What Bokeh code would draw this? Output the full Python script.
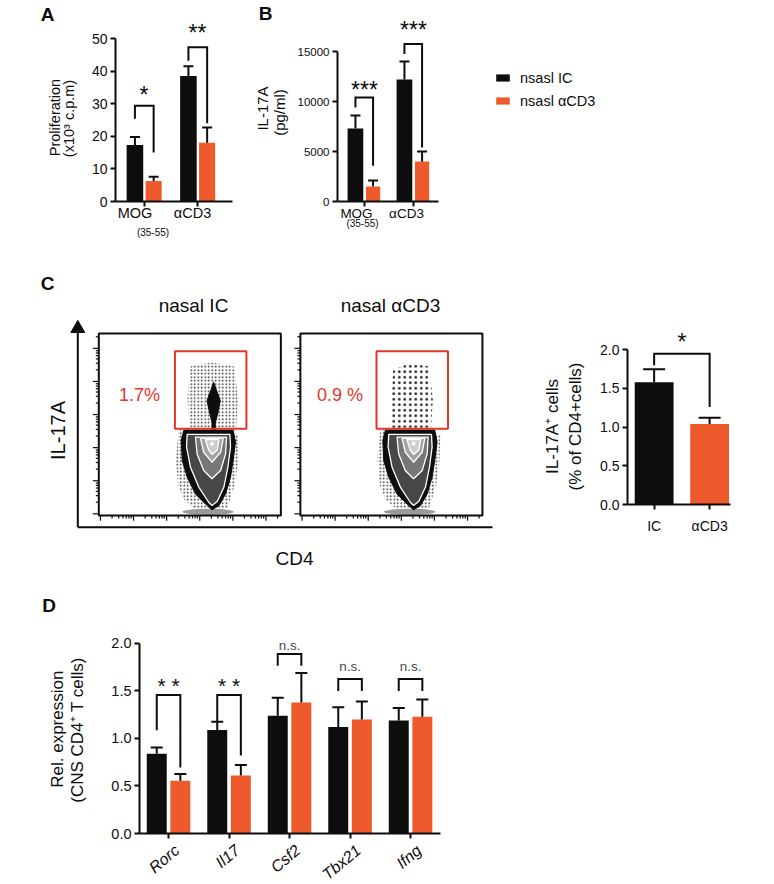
from bokeh.plotting import figure
from bokeh.models import (Range1d, FixedTicker, Whisker, TeeHead, ColumnDataSource,
                          Legend, LegendItem, NumeralTickFormatter)
from bokeh.layouts import row, column
from bokeh.core.properties import value
from bokeh.embed import file_html
from bokeh.resources import INLINE
import math

FONT = "Liberation Sans"
INK = "#0d0d0d"
ORANGE = "#EE5A2B"
RED = "#E2352C"

# ---------------- data: panel A ----------------
A_groups = ["MOG", "αCD3"]
A_ic = [17.3, 38.5]
A_ic_err = [19.8, 41.5]
A_acd3 = [6.3, 18.0]
A_acd3_err = [7.6, 22.7]
A_sig = ["*", "**"]
A_sig_y = [34.0, 53.0]
A_br_top = [29.4, 47.3]
A_br_left = [25.4, 43.2]
A_br_right = [15.0, 24.0]
A_yticks = [0, 10, 20, 30, 40, 50]

# ---------------- data: panel B ----------------
B_groups = ["MOG", "αCD3"]
B_ic = [7300, 12200]
B_ic_err = [8600, 14000]
B_acd3 = [1500, 4000]
B_acd3_err = [2100, 5000]
B_sig = ["***", "***"]
B_sig_y = [11570, 17570]
B_br_top = [10400, 15740]
B_br_left = [9400, 14740]
B_br_right = [3570, 5400]
B_yticks = [0, 5000, 10000, 15000]

legend_labels = ["nsasl IC", "nsasl αCD3"]

# ---------------- data: panel C (bars) ----------------
C_groups = ["IC", "αCD3"]
C_vals = [1.58, 1.04]
C_err = [1.75, 1.12]
C_sig = ["*"]
C_sig_y = [2.15]
C_br_top = [1.95]
C_br_left = [1.80]
C_br_right = [1.26]
C_yticks = [0.0, 0.5, 1.0, 1.5, 2.0]

# ---------------- data: panel C (flow plots) ----------------
FLOW_TITLES = ["nasal IC", "nasal αCD3"]
FLOW_PCT = ["1.7%", "0.9 %"]
FLOW_GATE = [2.30, 4.46, 2.62, 4.96]          # left, right, bottom, top
FLOW_TICKS = [0.05, 1.05, 2.05, 3.05, 4.05, 5.05]
FLOW_MINOR = [0.35, 0.55, 0.68, 0.78, 0.86, 0.93]
OUTER_X = [2.57, 2.49, 2.52, 2.67, 2.92, 3.22, 3.42, 3.63, 3.83, 3.98, 4.06, 4.13, 4.06]
OUTER_Y = [2.58, 2.27, 1.66, 1.16, 0.65, 0.35, 0.17, 0.30, 0.65, 1.16, 1.66, 2.22, 2.58]
RING1_X = [2.67, 2.65, 2.77, 3.02, 3.32, 3.42, 3.58, 3.78, 3.90, 3.98, 3.96]
RING1_Y = [2.45, 2.07, 1.46, 0.86, 0.40, 0.30, 0.43, 0.86, 1.46, 2.07, 2.45]
RING2_X = [2.92, 2.97, 3.17, 3.42, 3.68, 3.83, 3.86]
RING2_Y = [2.37, 1.86, 1.36, 1.11, 1.36, 1.86, 2.37]
RING3_X = [3.07, 3.17, 3.42, 3.68, 3.76]
RING3_Y = [2.33, 1.91, 1.61, 1.91, 2.33]
RING4_X = [3.22, 3.32, 3.42, 3.58, 3.63]
RING4_Y = [2.29, 1.98, 1.84, 1.98, 2.29]
PEAK = [3.42, 2.17]
HALO_X = [2.42, 2.32, 2.40, 2.60, 2.97, 3.40, 3.88, 4.10, 4.20, 4.23]
HALO_Y = [2.60, 1.66, 0.90, 0.45, 0.15, 0.08, 0.20, 0.90, 1.60, 2.45]
BASE = [3.30, 0.11, 1.56, 0.18]               # x, y, width, height
GATE_DOTS_X = [[2.75, 4.15, 4.20, 4.10, 3.40, 2.75, 2.68], [2.70, 3.95, 4.00, 3.90, 3.30, 2.80, 2.75]]
GATE_DOTS_Y = [[2.65, 2.65, 3.50, 4.50, 4.62, 4.50, 3.50], [2.65, 2.65, 3.50, 4.50, 4.60, 4.40, 3.50]]
SPINDLE_X = [3.47, 3.55, 3.67, 3.60, 3.52, 3.52, 3.42, 3.42, 3.35, 3.27, 3.39]
SPINDLE_Y = [4.03, 3.80, 3.47, 3.10, 2.80, 2.58, 2.58, 2.80, 3.10, 3.47, 3.80]

# ---------------- data: panel D ----------------
D_genes = ["Rorc", "Il17", "Csf2", "Tbx21", "Ifng"]
D_ic = [0.84, 1.09, 1.24, 1.12, 1.19]
D_ic_err = [0.905, 1.176, 1.43, 1.33, 1.32]
D_acd3 = [0.555, 0.61, 1.38, 1.20, 1.23]
D_acd3_err = [0.625, 0.72, 1.69, 1.39, 1.41]
D_sig = ["* *", "* *", "n.s.", "n.s.", "n.s."]
D_sig_y = [1.60, 1.60, 1.98, 1.76, 1.76]
D_br_top = [1.457, 1.457, 1.89, 1.625, 1.625]
D_br_left = [1.088, 1.176, 1.765, 1.50, 1.50]
D_br_right = [0.695, 0.82, 1.765, 1.50, 1.50]
D_yticks = [0.0, 0.5, 1.0, 1.5, 2.0]


# ---------------- helpers ----------------
def make_fig(fw, fh, border, xr, yr, axes=True):
    l, r, t, b = border
    kw = {} if axes else dict(x_axis_location=None, y_axis_location=None)
    p = figure(frame_width=fw, frame_height=fh, x_range=Range1d(*xr), y_range=Range1d(*yr),
               output_backend="svg", toolbar_location=None,
               min_border_left=l, min_border_right=r, min_border_top=t, min_border_bottom=b, **kw)
    p.outline_line_color = None
    p.grid.grid_line_color = None
    p.background_fill_color = "white"
    p.border_fill_color = "white"
    return p


def style_axes(p, yticks, ybounds, tick_size, xticks, fmt):
    ya = p.yaxis[0]
    ya.ticker = FixedTicker(ticks=yticks)
    ya.formatter = NumeralTickFormatter(format=fmt)
    ya.bounds = ybounds
    xa = p.xaxis[0]
    xa.ticker = FixedTicker(ticks=xticks)
    xa.major_label_overrides = {t: "" for t in xticks}
    for ax in (ya, xa):
        ax.axis_line_width = 2
        ax.axis_line_color = INK
        ax.major_tick_line_width = 2
        ax.major_tick_line_color = INK
        ax.major_tick_out = 5
        ax.major_tick_in = 0
        ax.minor_tick_line_color = None
        ax.major_label_text_font = FONT
        ax.major_label_text_font_size = f"{tick_size}px"
        ax.major_label_text_color = INK
        ax.major_label_standoff = 3


def mapper(p, fl, fb, ppx, ppy):
    x0, y0 = p.x_range.start, p.y_range.start
    return lambda ix, iy: (x0 + (ix - fl) / ppx, y0 + (fb - iy) / ppy)


def txt(p, xs, ys, texts, size, angle=0.0, style="normal", color=INK, align="center",
        baseline="middle", x_off=0, y_off=0):
    p.text(x=xs, y=ys, text=texts, angle=angle, text_font=value(FONT),
           text_font_size=f"{size}px", text_font_style=style, text_color=color,
           text_align=align, text_baseline=baseline, x_offset=x_off, y_offset=y_off,
           level="overlay")


def txt_at(p, xy, text, size, **kw):
    txt(p, [xy[0]], [xy[1]], [text], size, **kw)


def add_bars(p, xs, vals, errs, color, width, cap):
    src = ColumnDataSource(dict(x=xs, top=vals, upper=errs))
    r = p.vbar(x="x", top="top", width=width, bottom=0, source=src, fill_color=color, line_color=None)
    w = Whisker(source=src, base="x", lower="top", upper="upper", dimension="height",
                line_color=INK, line_width=2, lower_head=None,
                upper_head=TeeHead(size=cap, line_width=2, line_color=INK))
    w.level = "overlay"
    p.add_layout(w)
    return r


def add_brackets(p, centers, dl, dr, top, left, right):
    xs = [[c + dl, c + dl, c + dr, c + dr] for c in centers]
    ys = [[l, t, t, r] for t, l, r in zip(top, left, right)]
    p.multi_line(xs, ys, line_color=INK, line_width=2, line_join="miter", level="overlay")


# ================= Panel A =================
A_x = list(range(1, len(A_groups) + 1))
pA = make_fig(117, 189, (115, 8, 12, 41), (0.467, 2.654), (0, 57.98))
style_axes(pA, A_yticks, (0, 50), 14, A_x, "0")
mA = mapper(pA, 115, 201, 53.5, 3.26)
add_bars(pA, [x - 0.17 for x in A_x], A_ic, A_ic_err, INK, 0.31, 10)
add_bars(pA, [x + 0.18 for x in A_x], A_acd3, A_acd3_err, ORANGE, 0.30, 10)
add_brackets(pA, A_x, -0.17, 0.18, A_br_top, A_br_left, A_br_right)
txt(pA, A_x, A_sig_y, A_sig, 23, y_off=4)
txt_at(pA, mA(47, 14), "A", 19, style="bold")
txt_at(pA, mA(54, 117), "Proliferation", 14.5, angle=math.pi / 2)
txt_at(pA, mA(68, 118), "(x10³ c.p.m)", 14.5, angle=math.pi / 2)
txt(pA, A_x, [mA(0, 213)[1]] * len(A_x), A_groups, 14.5, x_off=[-9, -5])
txt_at(pA, (A_x[0], mA(0, 232)[1]), "(35-55)", 10, x_off=9)

# ================= Panel B =================
B_x = list(range(1, len(B_groups) + 1))
pB = make_fig(101, 189, (97, 336, 12, 41), (0.449, 2.51), (0, 18900))
style_axes(pB, B_yticks, (0, 15000), 11.5, B_x, "0")
mB = mapper(pB, 337, 201, 49.0, 0.01)
rB1 = add_bars(pB, [x - 0.185 for x in B_x], B_ic, B_ic_err, INK, 0.32, 10)
rB2 = add_bars(pB, [x + 0.175 for x in B_x], B_acd3, B_acd3_err, ORANGE, 0.29, 10)
add_brackets(pB, B_x, -0.185, 0.175, B_br_top, B_br_left, B_br_right)
txt(pB, B_x, B_sig_y, B_sig, 23, y_off=4)
txt_at(pB, mB(265, 13), "B", 19, style="bold")
txt_at(pB, mB(262, 108), "IL-17A", 15, angle=math.pi / 2)
txt_at(pB, mB(279, 112), "(pg/ml)", 15, angle=math.pi / 2)
txt(pB, B_x, [mB(0, 213)[1]] * len(B_x), B_groups, 13.5, x_off=[-8, -7])
txt_at(pB, (B_x[0], mB(0, 223)[1]), "(35-55)", 10, x_off=-2)
legend = Legend(items=[LegendItem(label=legend_labels[0], renderers=[rB1]),
                       LegendItem(label=legend_labels[1], renderers=[rB2])],
                location="top_left", glyph_width=17, glyph_height=9, label_standoff=9,
                label_height=19, spacing=4, padding=0, margin=56, border_line_color=None,
                background_fill_alpha=0, label_text_font=FONT, label_text_font_size="14.5px",
                label_text_color=INK)
pB.add_layout(legend, "right")

# ================= Panel C: flow plots =================
# frame aligned with the bar chart frame of panel C; everything drawn unclipped
pF = make_fig(504, 174, (0, 0, 88, 78), (-2.970, 12.257), (0.332, 5.589), axes=False)
BOX_OFF = [0.0, 6.09]
BOX = 5.5
OV = dict(level="overlay")
for k, off in enumerate(BOX_OFF):
    sh = lambda xs: [v + off for v in xs]
    # scattered events (stipple)
    pF.patch(sh(HALO_X), HALO_Y, fill_color=None, line_color=None, hatch_pattern="dot",
             hatch_color=INK, hatch_scale=3.5, hatch_weight=0.8, hatch_alpha=0.9, **OV)
    pF.patch(sh(GATE_DOTS_X[k]), GATE_DOTS_Y[k], fill_color=None, line_color=None,
             hatch_pattern="dot", hatch_color=INK, hatch_scale=(3.5 if k == 0 else 5.5),
             hatch_weight=(0.8 if k == 0 else 0.6), hatch_alpha=0.9, **OV)
    pF.ellipse(x=[BASE[0] + off], y=[BASE[1]], width=BASE[2], height=BASE[3],
               fill_color="#9a9a9a", line_color=None, **OV)
    # density contours
    pF.patch(sh(OUTER_X), OUTER_Y, fill_color=INK, line_color=INK, line_width=1, **OV)
    for rx, ry, col in [(RING1_X, RING1_Y, "#474747"), (RING2_X, RING2_Y, "#777777"),
                        (RING3_X, RING3_Y, "#a4a4a4"), (RING4_X, RING4_Y, "#cdcdcd")]:
        pF.patch(sh(rx), ry, fill_color=col, line_color="white", line_width=1.3, **OV)
    pF.scatter([PEAK[0] + off], [PEAK[1]], size=4, fill_color="white", line_color=None, **OV)
    if k == 0:
        pF.patch(sh(SPINDLE_X), SPINDLE_Y, fill_color=INK, line_color=INK, **OV)
    # gate
    pF.quad(left=[FLOW_GATE[0] + off], right=[FLOW_GATE[1] + off], bottom=[FLOW_GATE[2]],
            top=[FLOW_GATE[3]], fill_color=None, line_color=RED, line_width=2, **OV)
    # ticks
    tx0, tx1, ty0, ty1 = [], [], [], []
    for t in FLOW_TICKS:
        tx0 += [off - 0.18, off + t]; tx1 += [off, off + t]
        ty0 += [t, -0.16]; ty1 += [t, 0]
        for m in FLOW_MINOR:
            if t + m < BOX:
                tx0 += [off - 0.09, off + t + m]; tx1 += [off, off + t + m]
                ty0 += [t + m, -0.09]; ty1 += [t + m, 0]
    pF.segment(tx0, ty0, tx1, ty1, line_color=INK, line_width=1.2, **OV)
    # frame
    pF.quad(left=[off], right=[off + BOX], bottom=[0], top=[BOX], fill_color=None,
            line_color=INK, line_width=2, **OV)
mF = lambda ix, iy: ((ix - 98.3) / 33.1, (515 - iy) / 33.1)
txt_at(pF, mF(47, 283), "C", 19, style="bold")
txt_at(pF, mF(193, 305), FLOW_TITLES[0], 19)
txt_at(pF, mF(390, 305), FLOW_TITLES[1], 19)
txt_at(pF, mF(139, 395), FLOW_PCT[0], 18, color=RED)
txt_at(pF, mF(339.5, 395), FLOW_PCT[1], 18, color=RED)
txt_at(pF, mF(57, 430), "IL-17A", 20, angle=math.pi / 2)
txt_at(pF, mF(294, 558), "CD4", 19)
ox, oy = mF(77.3, 526.7)
tipx, _ = mF(500, 0)
_, tipy = mF(0, 320)
head = 8 / 33.1
pF.segment([ox, ox], [oy, oy], [ox, tipx - head], [tipy - head, oy], line_color=INK,
           line_width=2, **OV)
pF.scatter([ox, tipx - head], [tipy - head, oy], marker="triangle", size=14,
           angle=[0, -math.pi / 2], fill_color=INK, line_color=INK, **OV)

# ================= Panel C: bars =================
C_x = list(range(1, len(C_groups) + 1))
pC = make_fig(103, 174, (123, 44, 88, 78), (0.52, 2.376), (0, 2.2495))
style_axes(pC, C_yticks, (0, 2), 14, C_x, "0.0")
mC = mapper(pC, 627, 504, 55.5, 77.35)
add_bars(pC, C_x[:1], C_vals[:1], C_err[:1], INK, 0.70, 22)
add_bars(pC, C_x[1:], C_vals[1:], C_err[1:], ORANGE, 0.70, 22)
add_brackets(pC, [1.5], -0.5, 0.5, C_br_top, C_br_left, C_br_right)
txt(pC, [1.5], C_sig_y, C_sig, 23, y_off=4)
txt_at(pC, mC(552, 426), "IL-17A⁺ cells", 17, angle=math.pi / 2)
txt_at(pC, mC(575, 426), "(% of CD4+cells)", 17, angle=math.pi / 2)
txt(pC, C_x, [mC(0, 525)[1]] * len(C_x), C_groups, 14)

# ================= Panel D =================
D_x = list(range(1, len(D_genes) + 1))
pD = make_fig(301, 211, (139, 20, 40, 50), (0.52, 5.495), (0, 2.221))
style_axes(pD, D_yticks, (0, 2), 14.5, D_x, "0.0")
mD = mapper(pD, 139, 833, 60.5, 95.0)
add_bars(pD, [x - 0.195 for x in D_x], D_ic, D_ic_err, INK, 0.33, 12)
add_bars(pD, [x + 0.195 for x in D_x], D_acd3, D_acd3_err, ORANGE, 0.33, 12)
add_brackets(pD, D_x, -0.195, 0.195, D_br_top, D_br_left, D_br_right)
star_idx = [i for i, s in enumerate(D_sig) if "*" in s]
ns_idx = [i for i, s in enumerate(D_sig) if "*" not in s]
txt(pD, [D_x[i] for i in star_idx], [D_sig_y[i] for i in star_idx], [D_sig[i] for i in star_idx],
    21, y_off=4)
txt(pD, [D_x[i] for i in ns_idx], [D_sig_y[i] for i in ns_idx], [D_sig[i] for i in ns_idx],
    13.5, color="#4a4a4a")
txt_at(pD, mD(48.5, 605.5), "D", 19, style="bold")
txt_at(pD, mD(57, 728.7), "Rel. expression", 17, angle=math.pi / 2)
txt_at(pD, mD(77, 727), "(CNS CD4⁺  T cells)", 17, angle=math.pi / 2)
txt(pD, D_x, [mD(0, 841)[1]] * len(D_x), D_genes, 16, angle=0.7, style="italic",
    align="right", baseline="top", x_off=3)

layout = column(row(pA, pB), row(pF, pC), pD)
open("out.html", "w").write(file_html(layout, INLINE))
